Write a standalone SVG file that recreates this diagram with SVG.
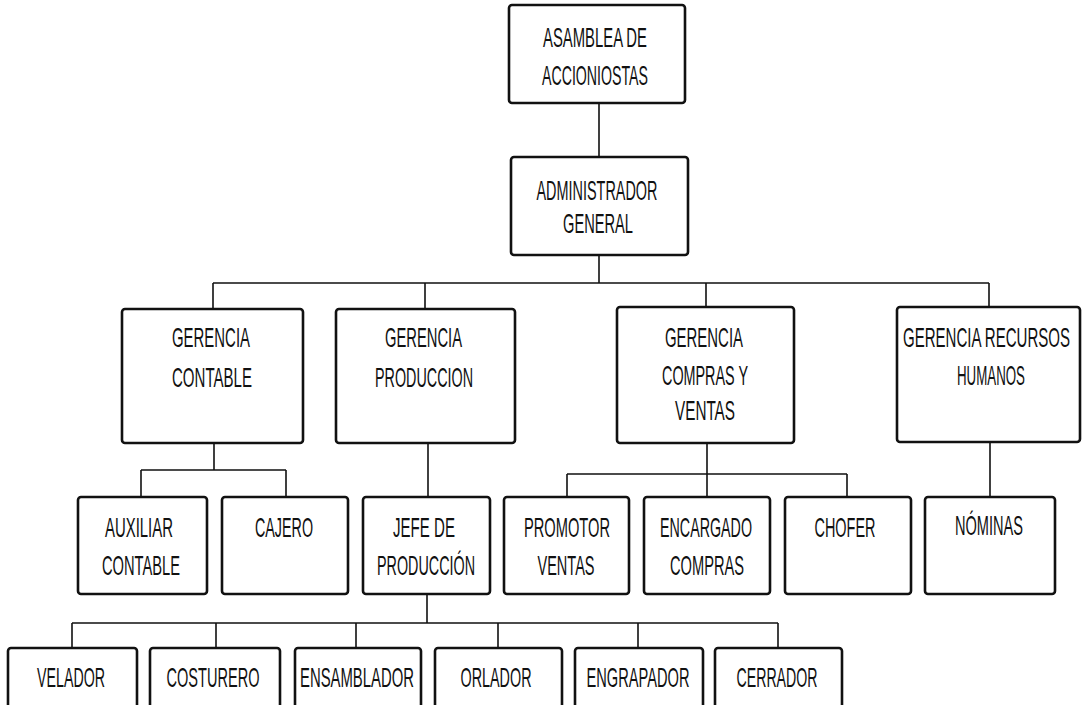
<svg xmlns="http://www.w3.org/2000/svg" width="1088" height="705" viewBox="0 0 1088 705">
<style>
.box{fill:#fff;stroke:#111;stroke-width:2.6}
.ln{fill:none;stroke:#111;stroke-width:1.6}
text{font-family:"Liberation Sans Narrow","Liberation Sans",Arial,sans-serif;font-size:28px;fill:#111;text-anchor:middle}
</style>
<rect width="1088" height="705" fill="#fff"/>
<g id="connectors" class="ln">
<path d="M599 103V157M599 255V283M213 283H989M213 283V309M425 283V309M706 283V307M989 283V307"/>
<path d="M214 443V470M141 470H286M141 470V497M286 470V497"/>
<path d="M428 443V497"/>
<path d="M707 443V497M567 474H847M567 474V497M847 474V497"/>
<path d="M990 442V497"/>
<path d="M427 594V623M72 623H778M72 623V648M216 623V648M356 623V648M498 623V648M638 623V648M778 623V648"/>
</g>
<g id="n-asamblea"><rect class="box" x="509" y="5" width="176" height="98" rx="3"/>
<text x="595" y="47" textLength="104" lengthAdjust="spacingAndGlyphs">ASAMBLEA DE</text>
<text x="595" y="85" textLength="106" lengthAdjust="spacingAndGlyphs">ACCIONIOSTAS</text></g>
<g id="n-admin"><rect class="box" x="511" y="157" width="177" height="98" rx="3"/>
<text x="597" y="200" textLength="121" lengthAdjust="spacingAndGlyphs">ADMINISTRADOR</text>
<text x="598" y="233" textLength="70" lengthAdjust="spacingAndGlyphs">GENERAL</text></g>
<g id="n-gcontable"><rect class="box" x="122" y="309" width="181" height="134" rx="3"/>
<text x="211" y="347" textLength="78" lengthAdjust="spacingAndGlyphs">GERENCIA</text>
<text x="212" y="387" textLength="80" lengthAdjust="spacingAndGlyphs">CONTABLE</text></g>
<g id="n-gproduccion"><rect class="box" x="336" y="309" width="179" height="134" rx="3"/>
<text x="423.5" y="347" textLength="77" lengthAdjust="spacingAndGlyphs">GERENCIA</text>
<text x="424" y="387" textLength="98" lengthAdjust="spacingAndGlyphs">PRODUCCION</text></g>
<g id="n-gcompras"><rect class="box" x="617" y="307" width="177" height="136" rx="3"/>
<text x="704" y="347" textLength="78" lengthAdjust="spacingAndGlyphs">GERENCIA</text>
<text x="705" y="385" textLength="86" lengthAdjust="spacingAndGlyphs">COMPRAS Y</text>
<text x="705" y="420" textLength="60" lengthAdjust="spacingAndGlyphs">VENTAS</text></g>
<g id="n-grrhh"><rect class="box" x="897" y="307" width="183" height="135" rx="3"/>
<text x="986.5" y="347" textLength="167" lengthAdjust="spacingAndGlyphs">GERENCIA RECURSOS</text>
<text x="991" y="385" textLength="68" lengthAdjust="spacingAndGlyphs">HUMANOS</text></g>
<g id="n-auxiliar"><rect class="box" x="78" y="497" width="129" height="97" rx="3"/>
<text x="139" y="537" textLength="68" lengthAdjust="spacingAndGlyphs">AUXILIAR</text>
<text x="141" y="575" textLength="78" lengthAdjust="spacingAndGlyphs">CONTABLE</text></g>
<g id="n-cajero"><rect class="box" x="222" y="497" width="126" height="97" rx="3"/>
<text x="284" y="537" textLength="58" lengthAdjust="spacingAndGlyphs">CAJERO</text></g>
<g id="n-jefe"><rect class="box" x="363" y="497" width="127" height="97" rx="3"/>
<text x="424" y="537" textLength="62" lengthAdjust="spacingAndGlyphs">JEFE DE</text>
<text x="426" y="575" textLength="98" lengthAdjust="spacingAndGlyphs">PRODUCCIÓN</text></g>
<g id="n-promotor"><rect class="box" x="504" y="497" width="125" height="97" rx="3"/>
<text x="567" y="537" textLength="86" lengthAdjust="spacingAndGlyphs">PROMOTOR</text>
<text x="566" y="575" textLength="57" lengthAdjust="spacingAndGlyphs">VENTAS</text></g>
<g id="n-encargado"><rect class="box" x="644" y="497" width="126" height="97" rx="3"/>
<text x="706" y="537" textLength="92" lengthAdjust="spacingAndGlyphs">ENCARGADO</text>
<text x="707" y="575" textLength="74" lengthAdjust="spacingAndGlyphs">COMPRAS</text></g>
<g id="n-chofer"><rect class="box" x="785" y="497" width="126" height="97" rx="3"/>
<text x="845" y="537" textLength="61" lengthAdjust="spacingAndGlyphs">CHOFER</text></g>
<g id="n-nominas"><rect class="box" x="925" y="497" width="130" height="97" rx="3"/>
<text x="989" y="535" textLength="68" lengthAdjust="spacingAndGlyphs">NÓMINAS</text></g>
<g id="n-velador"><rect class="box" x="8" y="648" width="129" height="64" rx="3"/>
<text x="71" y="687" textLength="68" lengthAdjust="spacingAndGlyphs">VELADOR</text></g>
<g id="n-costurero"><rect class="box" x="150" y="648" width="130" height="64" rx="3"/>
<text x="213" y="687" textLength="93" lengthAdjust="spacingAndGlyphs">COSTURERO</text></g>
<g id="n-ensamblador"><rect class="box" x="295" y="648" width="126" height="64" rx="3"/>
<text x="357" y="687" textLength="114" lengthAdjust="spacingAndGlyphs">ENSAMBLADOR</text></g>
<g id="n-orlador"><rect class="box" x="435" y="648" width="127" height="64" rx="3"/>
<text x="496" y="687" textLength="71" lengthAdjust="spacingAndGlyphs">ORLADOR</text></g>
<g id="n-engrapador"><rect class="box" x="575" y="648" width="128" height="64" rx="3"/>
<text x="638" y="687" textLength="103" lengthAdjust="spacingAndGlyphs">ENGRAPADOR</text></g>
<g id="n-cerrador"><rect class="box" x="715" y="648" width="127" height="64" rx="3"/>
<text x="777" y="687" textLength="81" lengthAdjust="spacingAndGlyphs">CERRADOR</text></g>
</svg>
